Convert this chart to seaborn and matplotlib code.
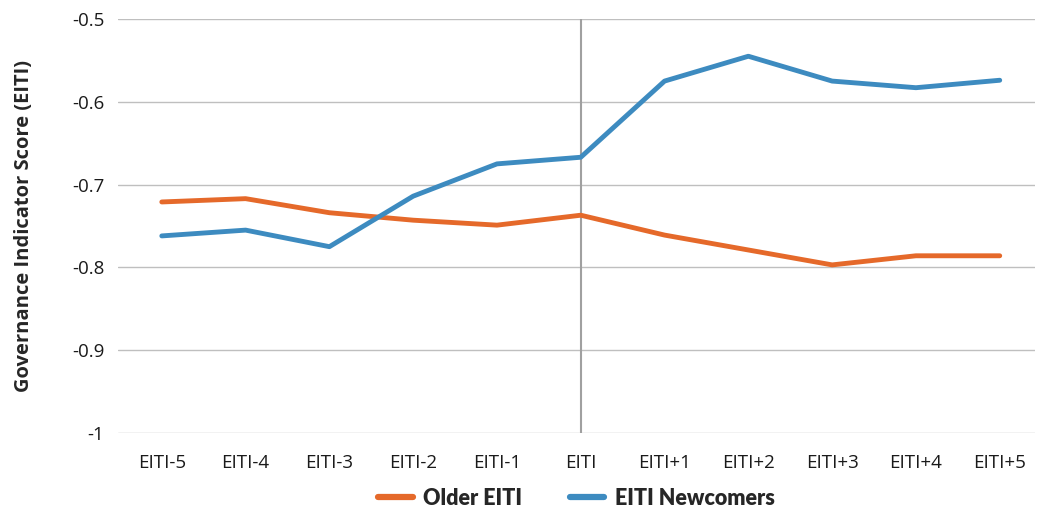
import numpy as np
import pandas as pd
import matplotlib.pyplot as plt
import seaborn as sns

# Data
periods = ["EITI-5", "EITI-4", "EITI-3", "EITI-2", "EITI-1", "EITI",
           "EITI+1", "EITI+2", "EITI+3", "EITI+4", "EITI+5"]
older = [-0.721, -0.717, -0.734, -0.743, -0.749, -0.737,
         -0.761, -0.779, -0.797, -0.786, -0.786]
newcomers = [-0.762, -0.755, -0.775, -0.714, -0.675, -0.667,
             -0.575, -0.545, -0.575, -0.583, -0.574]
y_ticks = [-1, -0.9, -0.8, -0.7, -0.6, -0.5]
y_labels = ["-1", "-0.9", "-0.8", "-0.7", "-0.6", "-0.5"]

df = pd.DataFrame({
    "period": list(range(len(periods))) * 2,
    "score": older + newcomers,
    "group": ["Older EITI"] * len(periods) + ["EITI Newcomers"] * len(periods),
})

sns.set_style("white")
plt.rcParams["font.family"] = ["Open Sans", "DejaVu Sans"]

fig = plt.figure(figsize=(10.37, 5.13), dpi=100)
ax = fig.add_axes([0.114, 0.156, 0.884, 0.807])

for y in y_ticks:
    ax.axhline(y, color="#bfbfbf", lw=1, zorder=0)
ax.axvline(periods.index("EITI"), color="#a0a0a0", lw=1.5, zorder=1)

sns.lineplot(data=df, x="period", y="score", hue="group",
             palette={"Older EITI": "#e5692a", "EITI Newcomers": "#3d8bc0"},
             linewidth=3.5, ax=ax, zorder=3)

ax.set_xlim(-0.52, 10.42)
ax.set_ylim(-1, -0.5)
ax.set_xticks(range(len(periods)))
ax.set_xticklabels(periods, fontsize=13.5)
ax.tick_params(axis="x", pad=15)
ax.set_yticks(y_ticks)
ax.set_yticklabels(y_labels, fontsize=13.5)
ax.tick_params(axis="y", pad=10)
ax.tick_params(axis="both", length=0, colors="#1a1a1a")
ax.set_xlabel("")
ax.set_ylabel("Governance Indicator Score (EITI)", fontsize=14.5,
              fontweight="bold", labelpad=27)
for s in ax.spines.values():
    s.set_visible(False)

leg = ax.legend(loc="upper center", bbox_to_anchor=(0.5, -0.085), ncol=2,
                frameon=False, handlelength=1.6, handletextpad=0.5,
                columnspacing=2.2,
                prop={"family": "Lato", "size": 15.5, "weight": "heavy"})
for line in leg.get_lines():
    line.set_linewidth(4.5)

fig.savefig("out.png", dpi=100)
